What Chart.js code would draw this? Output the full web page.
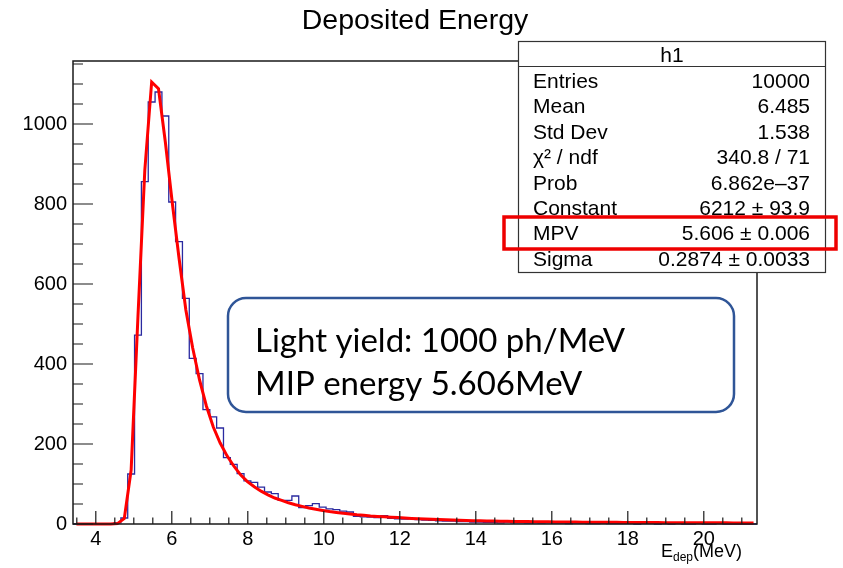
<!DOCTYPE html>
<html>
<head>
<meta charset="utf-8">
<title>Deposited Energy</title>
<script src="https://cdn.jsdelivr.net/npm/chart.js@4"></script>
<style>
  html, body { margin: 0; padding: 0; background: #fff; }
  #wrap { width: 843px; height: 568px; }
</style>
</head>
<body>
<div id="wrap"><canvas id="chart" width="843" height="568"></canvas></div>
<script>
// ── histogram h1: 100 bins over [3.4, 21.4] MeV ─────────────────
const X_RANGE = [3.4, 21.4];
const N_BINS = 100;
const Y_MAX = 1157.5;

const counts = [
  0, 0, 0, 0, 0, 0, 3, 15, 125, 472,
  856, 1055, 1080, 1020, 805, 706, 564, 414, 376, 286,
  268, 240, 166, 149, 126, 108, 104, 92, 80, 76,
  59, 59, 70, 41, 46, 51, 42, 38, 36, 32,
  30, 19, 18, 17, 16, 21, 14, 13, 12, 13,
  11, 10, 9, 8, 7, 7, 6, 6, 5, 5,
  4, 4, 3, 5, 3, 3, 2, 3, 2, 3,
  2, 2, 1, 2, 2, 1, 1, 2, 1, 1,
  1, 1, 0, 1, 1, 0, 1, 0, 1, 0,
  0, 1, 0, 0, 1, 0, 0, 0, 0, 0,
];

// Landau fit, sampled at the bin centres
const fitValues = [
  0, 0, 0, 0, 0, 0, 1, 14, 135, 520,
  885, 1105, 1088, 955, 805, 665, 535, 440, 360, 295,
  243, 203, 171, 145, 123, 106, 93, 82, 73, 65,
  59, 53, 48, 44, 40, 37, 34, 31, 29, 27,
  25, 23, 22, 20, 19, 18, 17, 16, 15, 14,
  13, 12.3, 11.6, 11, 10.4, 9.9, 9.3, 8.8, 8.4, 8,
  7.6, 7.3, 7, 6.7, 6.4, 6.2, 6, 5.8, 5.6, 5.4,
  5.2, 5.1, 4.9, 4.8, 4.6, 4.5, 4.4, 4.3, 4.2, 4.1,
  4, 3.9, 3.8, 3.7, 3.6, 3.5, 3.4, 3.35, 3.3, 3.2,
  3.15, 3.1, 3, 2.95, 2.9, 2.85, 2.8, 2.75, 2.7, 2.65,
];

const xTicks = [4, 6, 8, 10, 12, 14, 16, 18, 20];
const yTicks = [0, 200, 400, 600, 800, 1000];

const statLabels = ['Entries', 'Mean', 'Std Dev', 'χ² / ndf', 'Prob', 'Constant', 'MPV', 'Sigma'];
const statValues = ['10000', '6.485', '1.538', '340.8 / 71', '6.862e–37', '6212 ± 93.9', '5.606 ± 0.006', '0.2874 ± 0.0033'];

const noteLines = ['Light yield: 1000 ph/MeV', 'MIP energy 5.606MeV'];

const COLORS = {
  hist: '#2a2aa0',
  fit: '#ff0000',
  frame: '#1a1a1a',
  note: '#2f5597',
  mark: '#ee0000',
};
const ROOT_FONT = '"Liberation Sans", Arial, sans-serif';

const binWidth = (X_RANGE[1] - X_RANGE[0]) / N_BINS;
const histPoints = counts.map((c, i) => ({ x: X_RANGE[0] + i * binWidth, y: c }));
histPoints.push({ x: X_RANGE[1], y: counts[counts.length - 1] });
const fitPoints = fitValues.map((v, i) => ({ x: X_RANGE[0] + (i + 0.5) * binWidth, y: v }));

// frame, inward ticks, stats box and the note box
const rootDecor = {
  id: 'rootDecor',
  afterDraw(chart) {
    const { ctx, chartArea: a, scales: { x, y } } = chart;
    ctx.save();

    ctx.strokeStyle = COLORS.frame;
    ctx.lineWidth = 1.2;
    ctx.beginPath();
    for (let i = 7; i <= 42; i++) {
      const px = x.getPixelForValue(i / 2);
      const len = i % 4 === 0 ? 13 : 6.5;
      ctx.moveTo(px, a.bottom); ctx.lineTo(px, a.bottom - len);
    }
    for (let v = 0; v <= Y_MAX; v += 50) {
      const py = y.getPixelForValue(v);
      const len = v % 200 === 0 ? 20 : 10;
      ctx.moveTo(a.left, py); ctx.lineTo(a.left + len, py);
    }
    ctx.stroke();

    ctx.lineWidth = 1.5;
    ctx.strokeRect(a.left, a.top, a.right - a.left, a.bottom - a.top);

    // title
    ctx.fillStyle = '#000';
    ctx.font = `28.5px ${ROOT_FONT}`;
    ctx.textAlign = 'center';
    ctx.textBaseline = 'alphabetic';
    ctx.fillText('Deposited Energy', 415, 29);

    // x axis title  E_dep(MeV)
    ctx.textAlign = 'left';
    ctx.font = `18px ${ROOT_FONT}`;
    const wE = ctx.measureText('E').width;
    const wM = ctx.measureText('(MeV)').width;
    ctx.font = `12px ${ROOT_FONT}`;
    const wD = ctx.measureText('dep').width;
    let tx = 742 - (wE + wD + wM);
    ctx.font = `18px ${ROOT_FONT}`;
    ctx.fillText('E', tx, 557);
    ctx.font = `12px ${ROOT_FONT}`;
    ctx.fillText('dep', tx + wE, 561);
    ctx.font = `18px ${ROOT_FONT}`;
    ctx.fillText('(MeV)', tx + wE + wD, 557);

    // stats box
    const sb = { l: 518.5, t: 41.5, r: 825.5, b: 272.5 };
    ctx.fillStyle = '#fff';
    ctx.fillRect(sb.l, sb.t, sb.r - sb.l, sb.b - sb.t);
    ctx.strokeStyle = '#333';
    ctx.lineWidth = 1.2;
    ctx.strokeRect(sb.l, sb.t, sb.r - sb.l, sb.b - sb.t);
    ctx.beginPath();
    ctx.moveTo(sb.l, 66.5); ctx.lineTo(sb.r, 66.5);
    ctx.stroke();

    ctx.fillStyle = '#000';
    ctx.font = `21px ${ROOT_FONT}`;
    ctx.textAlign = 'center';
    ctx.fillText('h1', (sb.l + sb.r) / 2, 62);
    statLabels.forEach((lab, i) => {
      const by = 88 + i * 25.4;
      ctx.textAlign = 'left';
      ctx.fillText(lab, 533, by);
      ctx.textAlign = 'right';
      ctx.fillText(statValues[i], 810, by);
    });

    // highlight round the MPV row
    ctx.strokeStyle = COLORS.mark;
    ctx.lineWidth = 3.5;
    ctx.strokeRect(504, 217, 332, 32);

    // note box
    ctx.fillStyle = '#fff';
    ctx.strokeStyle = COLORS.note;
    ctx.lineWidth = 2.5;
    ctx.beginPath();
    ctx.roundRect(228, 298, 506, 114, 18);
    ctx.fill();
    ctx.stroke();
    ctx.fillStyle = '#000';
    ctx.textAlign = 'left';
    ctx.font = '33px Lato, "Open Sans", sans-serif';
    ctx.fillText(noteLines[0], 255, 352);
    ctx.fillText(noteLines[1], 255, 395);

    ctx.restore();
  },
};

new Chart(document.getElementById('chart'), {
  type: 'line',
  data: {
    datasets: [
      {
        label: 'fit',
        data: fitPoints,
        borderColor: COLORS.fit,
        borderWidth: 3,
        pointRadius: 0,
        tension: 0,
        fill: false,
        clip: false,
        order: 0,
      },
      {
        label: 'h1',
        data: histPoints,
        borderColor: COLORS.hist,
        borderWidth: 1.3,
        pointRadius: 0,
        stepped: 'before',
        fill: false,
        clip: false,
        order: 1,
      },
    ],
  },
  options: {
    responsive: false,
    animation: false,
    devicePixelRatio: 1,
    layout: { padding: { top: 61, right: 86, left: 0, bottom: 0 } },
    plugins: { legend: { display: false }, tooltip: { enabled: false }, title: { display: false } },
    scales: {
      x: {
        type: 'linear',
        min: X_RANGE[0], max: X_RANGE[1],
        grid: { display: false, drawTicks: false },
        border: { display: false },
        ticks: { font: { family: ROOT_FONT, size: 20 }, color: '#000', padding: 3, maxRotation: 0, autoSkip: false, callback: v => String(v) },
        afterBuildTicks: s => { s.ticks = xTicks.map(v => ({ value: v })); },
        afterFit: s => { s.height = 44; },
      },
      y: {
        type: 'linear',
        min: 0, max: Y_MAX,
        grid: { display: false, drawTicks: false },
        border: { display: false },
        ticks: { font: { family: ROOT_FONT, size: 20 }, color: '#000', padding: 6, autoSkip: false, callback: v => String(v) },
        afterBuildTicks: s => { s.ticks = yTicks.map(v => ({ value: v })); },
        afterFit: s => { s.width = 73; },
      },
    },
  },
  plugins: [rootDecor],
});
</script>
</body>
</html>
